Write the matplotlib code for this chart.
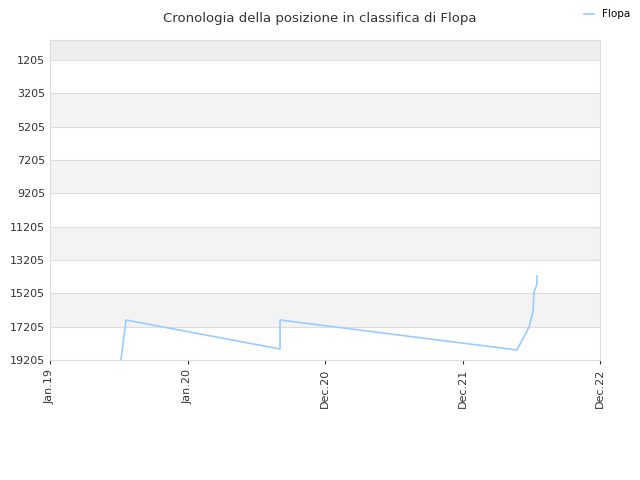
import matplotlib
matplotlib.use("Agg")
import matplotlib.pyplot as plt

tick_labels = ["Jan.19", "Jan.20", "Dec.20", "Dec.21", "Dec.22"]
x_pos = [0.516, 0.553, 1.673, 1.673, 3.396, 3.484, 3.513, 3.520, 3.542, 3.542]
ranks = [19205, 16805, 18545, 16805, 18605, 17225, 16265, 15125, 14645, 14165]
yticks = list(range(1205, 19206, 2000))

fig = plt.figure(figsize=(6.4, 4.8), dpi=100)
ax = fig.add_axes([50/640, 1-360/480, 550/640, 320/480])
ax.set_xlim(0, 4)
ax.set_ylim(19205, 5)
# bands
edges = [5] + yticks
for i in range(len(edges)-1):
    if i % 2 == 0:
        ax.axhspan(edges[i], edges[i+1], color="#eeeeee" if i == 0 else "#f3f3f3", zorder=0, lw=0)
for t in yticks:
    ax.axhline(t, color="#dddddd", lw=0.8, zorder=1)
ax.plot(x_pos, ranks, color="#99ccff", lw=1.2, label="Flopa", zorder=3)
ax.set_yticks(yticks)
ax.set_xticks(range(5))
ax.set_xticklabels(tick_labels, rotation=90, fontsize=8, color="#333333")
ax.tick_params(axis="y", labelsize=8, colors="#333333", length=0)
ax.tick_params(axis="x", length=3, colors="#333333")
for s in ax.spines.values():
    s.set_color("#dddddd")
fig.text(0.5, 0.975, "Cronologia della posizione in classifica di Flopa", ha="center", va="top", fontsize=9.5, color="#333333")
fig.legend(loc="upper right", bbox_to_anchor=(1.0, 1.0), frameon=False, fontsize=7.5, handlelength=1)
fig.savefig("out.png", dpi=100)
